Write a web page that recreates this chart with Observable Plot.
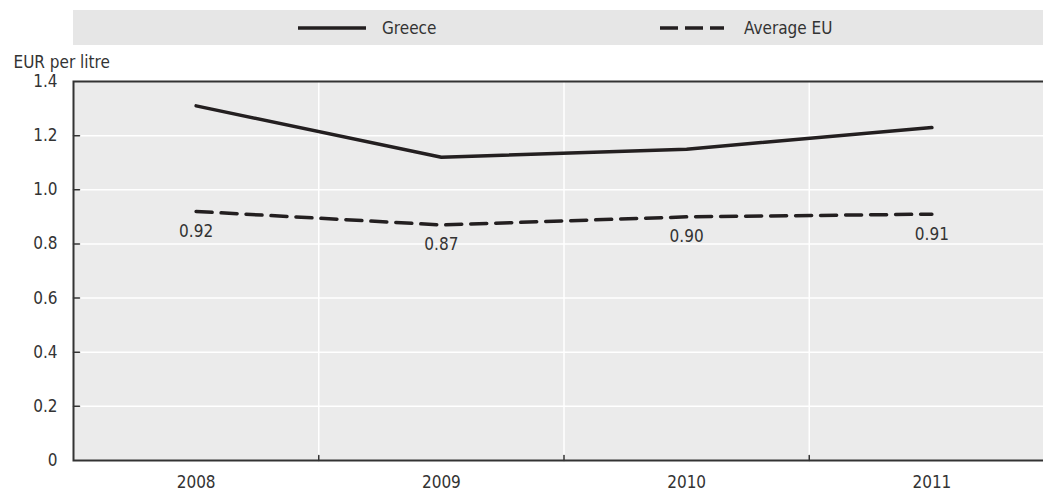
<!DOCTYPE html>
<html><head><meta charset="utf-8">
<script src="https://cdn.jsdelivr.net/npm/d3@7"></script>
<script src="https://cdn.jsdelivr.net/npm/@observablehq/plot@0.6"></script>
<style>
body{margin:0;background:#fff;font-family:"Liberation Sans Narrow","Arial Narrow","DejaVu Sans Condensed",sans-serif;overflow:hidden;}
#legend{position:relative;margin-left:73px;margin-top:10px;width:970px;height:35px;background:#e6e6e6;}
.item{position:absolute;top:0;height:35px;display:flex;align-items:center;font-size:17px;color:#333;}
.item svg{display:block;}
</style></head><body>
<div id="legend"></div>
<div id="chart"></div>
<script>
const years = [2008, 2009, 2010, 2011];
const greece = [1.31, 1.12, 1.15, 1.23];
const averageEU = [0.92, 0.87, 0.90, 0.91];
const seriesNames = ["Greece", "Average EU"];
const yTicks = [0, 0.2, 0.4, 0.6, 0.8, 1.0, 1.2, 1.4];
const yLabel = "EUR per litre";

const ink = "#231f20";
const dash = "16,9";
const font = '"Liberation Sans Narrow","Arial Narrow","DejaVu Sans Condensed",sans-serif';

// Legend (HTML, above the SVG)
const legend = document.getElementById("legend");
const legendItems = [
  {name: seriesNames[0], left: 225, w: 68, gap: 16, dash: null},
  {name: seriesNames[1], left: 587, w: 64, gap: 20, dash: "18,7"}
];
for (const it of legendItems) {
  const div = document.createElement("div");
  div.className = "item";
  div.style.left = it.left + "px";
  div.innerHTML = `<svg width="${it.w}" height="6"><line x1="0" x2="${it.w}" y1="3" y2="3" stroke="${ink}" stroke-width="3.5" ${it.dash ? `stroke-dasharray="${it.dash}"` : ""}/></svg><span style="margin-left:${it.gap}px">${it.name}</span>`;
  legend.appendChild(div);
}

const rowsG = years.map((y, i) => ({year: y, value: greece[i]}));
const rowsE = years.map((y, i) => ({year: y, value: averageEU[i]}));
const boundaries = years.slice(0, -1).map(y => y + 0.5);
const xStart = years[0] - 0.5;
const innerY = yTicks.slice(1, -1);
const tickShape = {draw(context, l) { context.moveTo(0, 0); context.lineTo(0, -l); }};

const chart = Plot.plot({
  width: 1043, height: 446,
  marginTop: 36, marginBottom: 31, marginLeft: 73, marginRight: -11,
  style: {fontFamily: font, fontSize: "17px", color: "#333", background: "transparent", overflow: "hidden"},
  x: {domain: [xStart, years[years.length - 1] + 0.5]},
  y: {domain: [yTicks[0], yTicks[yTicks.length - 1]]},
  marks: [
    Plot.frame({fill: "#ebebeb"}),
    Plot.ruleY(innerY, {stroke: "#fff", strokeWidth: 1.5}),
    Plot.ruleX(boundaries, {stroke: "#fff", strokeWidth: 1.5}),
    Plot.vector(boundaries, {x: d => d, y: yTicks[0], length: 5, rotate: 0, anchor: "start", shape: tickShape, stroke: "#333", strokeWidth: 1.5}),
    Plot.vector(innerY, {x: xStart, y: d => d, length: 6, rotate: 90, anchor: "start", shape: tickShape, stroke: "#333", strokeWidth: 1.5}),
    Plot.frame({stroke: "#333", strokeWidth: 2}),
    Plot.axisY({ticks: yTicks, tickSize: 0, tickPadding: 16, tickFormat: d => d === 0 ? "0" : d.toFixed(1), label: null}),
    Plot.axisX({ticks: years, tickSize: 0, tickPadding: 15, tickFormat: d => String(d), label: null}),
    Plot.line(rowsG, {x: "year", y: "value", stroke: ink, strokeWidth: 3.5}),
    Plot.line(rowsE, {x: "year", y: "value", stroke: ink, strokeWidth: 3.5, strokeDasharray: dash}),
    Plot.text(rowsE, {x: "year", y: "value", text: d => d.value.toFixed(2), dy: 20, fill: "#333"}),
    Plot.text([yLabel], {frameAnchor: "top-left", dx: -60, dy: -19, textAnchor: "start", lineAnchor: "middle", fill: "#333"})
  ]
});
document.getElementById("chart").appendChild(chart);
</script>
</body></html>
